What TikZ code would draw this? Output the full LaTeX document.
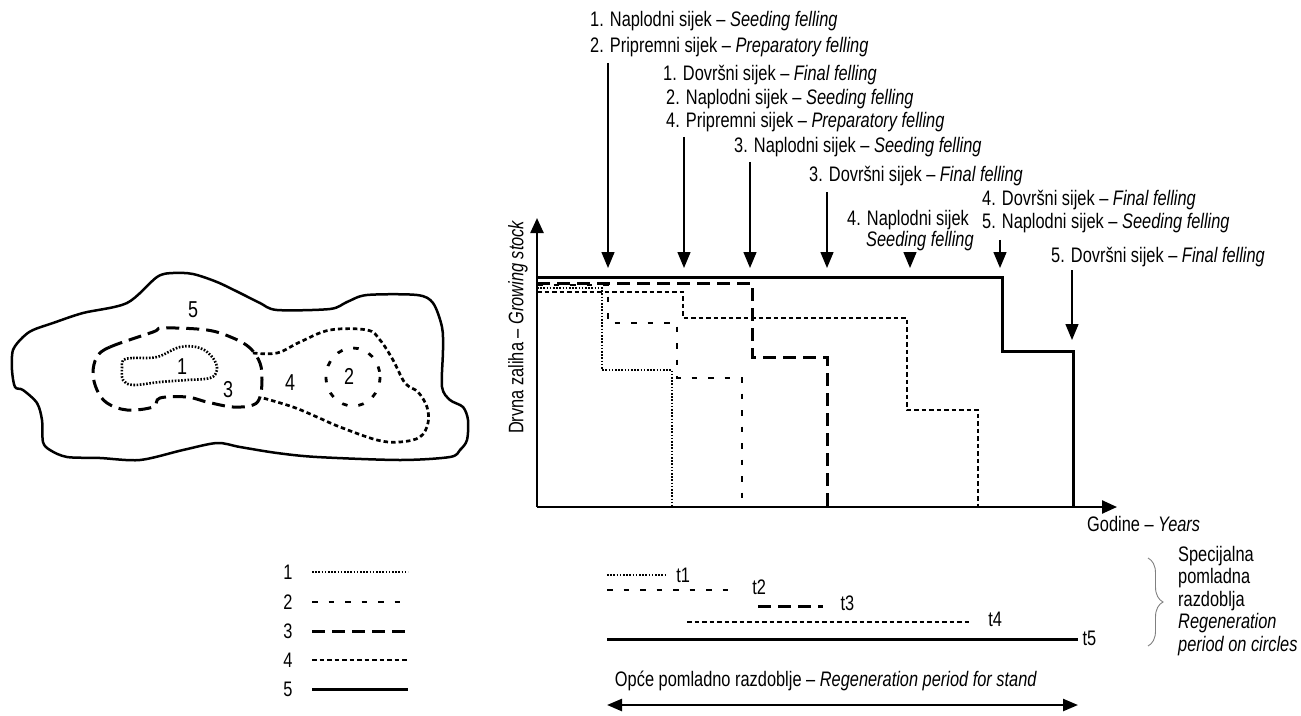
\documentclass[tikz,border=0pt]{standalone}
\usepackage{fontspec}
\setmainfont[FakeStretch=0.78]{Liberation Sans}
\usetikzlibrary{arrows.meta, calc, decorations.pathreplacing}

\tikzset{
  lab/.style={inner sep=0pt, anchor=west, font=\fontsize{21}{24}\selectfont},
  cut/.style={-{Triangle[width=13pt,length=16pt]}, line width=1.4pt},
  axis/.style={-{Triangle[width=13pt,length=15pt]}, line width=2.4pt},
  ldot/.style={line width=2.6pt, dash pattern=on 1.6pt off 1.6pt},
  lsparse/.style={line width=2.8pt, dash pattern=on 5.5pt off 11pt},
  ldash/.style={line width=3pt, dash pattern=on 13pt off 7pt},
  lfine/.style={line width=2.7pt, dash pattern=on 4.5pt off 3pt},
  lsolid/.style={line width=3pt},
}

\begin{document}
\begin{tikzpicture}[x=1pt, y=-1pt]
\useasboundingbox (0,0) rectangle (1301,715);

% map of the stand
\draw[line width=2.5pt] plot[smooth cycle, tension=0.5] coordinates {
  (33,330) (53,323) (83,313) (127,303) (157,277) (173,273) (193,274) (217,282)
  (240,293) (260,303) (277,310) (330,309) (347,302) (367,295) (417,295) (433,303)
  (442,327) (443,350) (442,387) (450,400) (463,407) (468,420) (467,440) (460,450)
  (450,457) (400,460) (317,457) (277,453) (240,447) (217,443) (183,450) (140,460)
  (100,458) (67,457) (50,450) (43,442) (42,420) (37,403) (23,390) (15,387)
  (12,370) (13,350) (23,337)};
\draw[ldash] plot[smooth cycle, tension=0.6] coordinates {
  (97,357) (110,347) (153,332) (163,328) (207,330) (233,338) (250,348) (260,363)
  (262,380) (260,397) (253,405) (233,407) (207,402) (187,397) (160,398) (153,407)
  (127,410) (107,403) (97,390) (93,373)};
\draw[ldot] plot[smooth cycle, tension=0.6] coordinates {
  (123,360) (133,358) (157,357) (180,347) (200,348) (213,358) (217,370) (210,378)
  (187,380) (160,382) (133,385) (123,380) (122,368)};
\draw[lfine] plot[smooth, tension=0.6] coordinates {
  (253,353) (277,353) (300,342) (330,330) (367,330) (380,340) (393,360) (405,383)
  (418,392) (427,407) (428,423) (420,437) (400,442) (377,440) (340,427) (317,417)
  (293,407) (263,398)};
\draw[lsparse] (353,377) ellipse [x radius=27, y radius=29];
\node[lab, anchor=center, font=\fontsize{23}{24}\selectfont] (m5) at (193,310) {5};
\node[lab, anchor=center, font=\fontsize{23}{24}\selectfont] (m1) at (182,367) {1};
\node[lab, anchor=center, font=\fontsize{23}{24}\selectfont] (m3) at (228,390) {3};
\node[lab, anchor=center, font=\fontsize{23}{24}\selectfont] (m4) at (290,383) {4};
\node[lab, anchor=center, font=\fontsize{23}{24}\selectfont] (m2) at (349,376) {2};

% graph
\coordinate (O) at (537,507);
\coordinate (ytop) at (537,218);
\coordinate (xend) at (1117,507);
\draw[axis] (O) -- (ytop);
\draw[axis] (O) -- (xend);
\node[lab, anchor=center, rotate=90] (ylab) at (518,327) {Drvna zaliha -- \textit{Growing stock}};
\node[lab] (xlab) at (1087,524) {Godine -- \textit{Years}};

\draw[lsolid] (537,277) -- (1002,277) -- (1002,351) -- (1073,351) -- (1073,507);
\draw[ldash] (537,283) -- (752,283) -- (752,357) -- (827,357) -- (827,507);
\draw[lsparse] (537,285) -- (608,285) -- (608,323) -- (677,323) -- (677,378) -- (742,378) -- (742,507);
\draw[ldot] (537,288) -- (602,288) -- (602,370) -- (672,370) -- (672,507);
\draw[lfine] (537,292) -- (683,292) -- (683,318) -- (907,318) -- (907,410) -- (978,410) -- (978,507);

% fellings
\node[lab] (f1a) at (590,21) {1. Naplodni sijek -- \textit{Seeding felling}};
\node[lab] (f1b) at (590,47) {2. Pripremni sijek -- \textit{Preparatory felling}};
\node[lab] (f2a) at (663,75) {1. Dovršni sijek -- \textit{Final felling}};
\node[lab] (f2b) at (666,99) {2. Naplodni sijek -- \textit{Seeding felling}};
\node[lab] (f2c) at (666,122) {4. Pripremni sijek -- \textit{Preparatory felling}};
\node[lab] (f3) at (734,147) {3. Naplodni sijek -- \textit{Seeding felling}};
\node[lab] (f4) at (809,176) {3. Dovršni sijek -- \textit{Final felling}};
\node[lab] (f6a) at (982,200) {4. Dovršni sijek -- \textit{Final felling}};
\node[lab] (f6b) at (982,223) {5. Naplodni sijek -- \textit{Seeding felling}};
\node[lab] (f5a) at (847,220) {4. Naplodni sijek};
\node[lab] (f5b) at (866,241) {\textit{Seeding felling}};
\node[lab] (f7) at (1051,257) {5. Dovršni sijek -- \textit{Final felling}};

\coordinate (c1) at (608,268);
\coordinate (c2) at (684,268);
\coordinate (c3) at (750,268);
\coordinate (c4) at (827,268);
\coordinate (c5) at (910,268);
\coordinate (c6) at (1000,268);
\coordinate (c7) at (1072,340);
\draw[cut] ($(f1b.south -| c1)+(0,6)$) -- (c1);
\draw[cut] ($(f2c.south -| c2)+(0,5)$) -- (c2);
\draw[cut] ($(f3.south -| c3)+(0,5)$) -- (c3);
\draw[cut] ($(f4.south -| c4)+(0,6)$) -- (c4);
\draw[cut] ($(f5b.south -| c5)+(0,2)$) -- (c5);
\draw[cut] ($(f6b.south -| c6)+(0,7)$) -- (c6);
\draw[cut] ($(f7.south -| c7)+(0,3)$) -- (c7);

% legend
\foreach \i/\y/\s in {1/572/ldot, 2/602/lsparse, 3/631/ldash, 4/660/lfine, 5/689/lsolid}{
  \node[lab, anchor=center] (k\i) at (288,\y) {\i};
  \draw[\s] (312,\y) -- (408,\y);
}

% regeneration periods
\draw[ldot] (607,575) -- (667,575) node[lab, xshift=8pt] (t1) {t1};
\draw[lsparse] (607,590) -- (733,590) node[lab, xshift=18pt, yshift=3pt] (t2) {t2};
\draw[ldash] (758,606) -- (823,606) node[lab, xshift=16pt, yshift=3pt] (t3) {t3};
\draw[lfine] (687,622) -- (972,622) node[lab, xshift=15pt, yshift=3pt] (t4) {t4};
\draw[lsolid] (607,639) -- (1078,639) node[lab, xshift=3pt, yshift=1pt] (t5) {t5};

\node[lab, anchor=center] (opce) at (826,681) {Opće pomladno razdoblje -- \textit{Regeneration period for stand}};
\coordinate (ga) at (607,705);
\coordinate (gb) at (1078,705);
\draw[{Triangle[width=12pt,length=15pt]}-{Triangle[width=12pt,length=15pt]}, line width=2.4pt] (ga) -- (gb);

\draw[gray, line width=0.9pt, decorate, decoration={brace, amplitude=15pt}] (1148,558) -- (1148,646);
\node[lab, align=left, font=\fontsize{21}{22.5}\selectfont] (spec) at (1178,601)
  {Specijalna\\pomladna\\razdoblja\\\textit{Regeneration}\\\textit{period on circles}};
\end{tikzpicture}
\end{document}
